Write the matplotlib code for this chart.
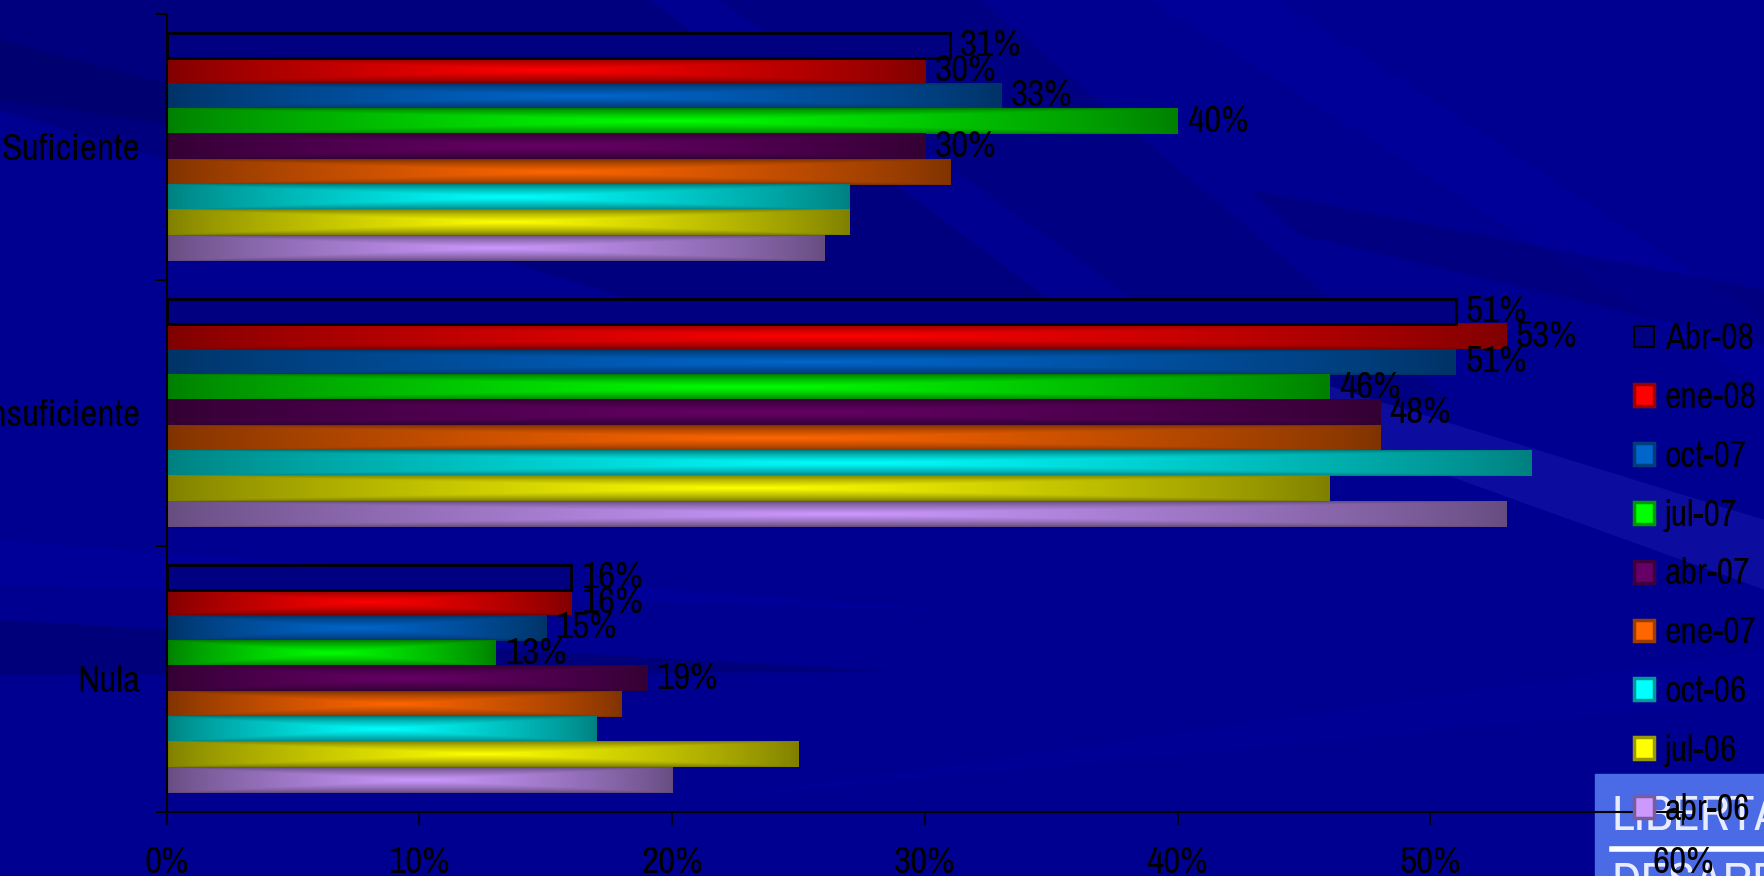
import matplotlib
matplotlib.use("Agg")
import matplotlib.pyplot as plt
import numpy as np
from matplotlib import font_manager
from matplotlib.patches import Patch, Polygon, Rectangle

# ---- data -------------------------------------------------------------
categories = ["Suficiente", "Insuficiente", "Nula"]
series = ["Abr-08", "ene-08", "oct-07", "jul-07", "abr-07",
          "ene-07", "oct-06", "jul-06", "abr-06"]
# values in %, one list per survey wave, ordered like categories
abr08 = [31, 51, 16]
ene08 = [30, 53, 16]
oct07 = [33, 51, 15]
jul07 = [40, 46, 13]
abr07 = [30, 48, 19]
ene07 = [31, 48, 18]
oct06 = [27, 54, 17]
jul06 = [27, 46, 25]
abr06 = [26, 53, 20]
values = [abr08, ene08, oct07, jul07, abr07, ene07, oct06, jul06, abr06]
labelled = 5  # only the first five waves carry data labels
xticks = [0, 10, 20, 30, 40, 50, 60]

bright = [None, (255, 0, 0), (0, 102, 204), (0, 255, 0), (102, 0, 102),
          (255, 102, 0), (0, 255, 255), (255, 255, 0), (204, 153, 255)]

# ---- fonts: a narrow grotesque if one is around -------------------------------
fam = ["Liberation Sans", "DejaVu Sans"]
for cand in ["Liberation Sans Narrow", "Archivo Narrow", "Roboto Condensed",
             "PT Sans Narrow", "Asap Condensed"]:
    try:
        font_manager.findfont(cand, fallback_to_default=False)
        fam = [cand, "DejaVu Sans"]
        break
    except Exception:
        pass
plt.rcParams["font.family"] = fam

W, H = 1765, 876
fig = plt.figure(figsize=(W / 100, H / 100), dpi=100, facecolor="#00008f")

# ---- background with soft diagonal streaks ----------------------------------
bg = fig.add_axes([0, 0, 1, 1], zorder=-10)
bg.set_xlim(0, W)
bg.set_ylim(H, 0)
bg.axis("off")
bg.add_patch(Rectangle((0, 0), W, H, color="#000090"))
streaks = [
    ([(0, 0), (650, 0), (1050, 300), (900, 380), (0, 110)], "#000060", 0.35),
    ([(0, 40), (520, 175), (0, 100)], "#000050", 0.3),
    ([(720, 0), (980, 0), (1450, 400), (1300, 420)], "#000068", 0.3),
    ([(1150, 0), (1280, 0), (1765, 320), (1765, 390)], "#0000b0", 0.25),
    ([(1050, 300), (1765, 520), (1765, 590), (1100, 350)], "#2828c0", 0.3),
    ([(1250, 190), (1765, 290), (1765, 345), (1300, 235)], "#000060", 0.3),
    ([(0, 540), (950, 610), (0, 585)], "#0000b0", 0.25),
    ([(0, 620), (900, 672), (0, 675)], "#000055", 0.35),
    ([(700, 800), (1765, 650), (1765, 700)], "#0000a8", 0.2),
]
for pts, col, a in streaks:
    bg.add_patch(Polygon(pts, closed=True, facecolor=col, edgecolor="none", alpha=a))

# logo box bottom right
bg.add_patch(Rectangle((1595, 774), W - 1595, H - 774, color="#4a6ae6"))
bg.plot([1612, W], [849, 849], color="white", lw=4)
bg.text(1612, 816, "LIBERTAD", color="#e8ecff", fontsize=36, va="center",
        ha="left")
bg.text(1612, 884, "DESARROLLO", color="#e8ecff", fontsize=36, va="center",
        ha="left")

# ---- chart ------------------------------------------------------------------
left, right, top, bottom = 166.6, 1683, 13.5, 811.6
ax = fig.add_axes([left / W, 1 - bottom / H, (right - left) / W, (bottom - top) / H])
ax.set_facecolor("none")

n = len(series)
h = 1 / (n + 1.5)          # gap width 150 %
ypos = np.arange(len(categories))


def shade(rgb, nx=240, ny=24):
    # "from centre" gradient: full colour in the middle, half at the edges
    u = np.linspace(-1, 1, nx)
    v = np.linspace(-1, 1, ny)
    U, V = np.meshgrid(u, v)
    t = 1 - np.maximum(np.abs(U), np.abs(V))
    k = 0.5 + 0.5 * t ** 0.8
    return k[..., None] * (np.array(rgb) / 255.0)


for i, (name, vals) in enumerate(zip(series, values)):
    y = ypos + (i - (n - 1) / 2) * h
    if i == 0:
        cont = ax.barh(y, vals, height=h, color="#000080", edgecolor="black",
                       linewidth=2, zorder=3)
    else:
        cont = ax.barh(y, vals, height=h, color="none", linewidth=0, zorder=3)
        img = shade(bright[i])
        for p in cont.patches:
            x0, y0 = p.get_x(), p.get_y()
            ax.imshow(img, extent=(x0, x0 + p.get_width(), y0 + p.get_height(), y0),
                      aspect="auto", interpolation="bilinear", zorder=2)
    if i < labelled:
        ax.bar_label(cont, labels=[f"{v}%" for v in vals], padding=7,
                     fontsize=27, color="black", zorder=5)

ax.set_xlim(0, 60)
ax.set_ylim(len(categories) - 0.5, -0.5)
ax.set_aspect("auto")

ax.set_xticks(xticks)
ax.set_xticklabels([f"{t}%" for t in xticks])
ax.set_yticks(ypos)
ax.set_yticklabels(categories)
ax.set_yticks(np.arange(len(categories) + 1) - 0.5, minor=True)
ax.tick_params(axis="y", which="major", length=0, pad=19, labelsize=27, colors="black")
ax.tick_params(axis="y", which="minor", length=8, width=1.5, color="black")
ax.tick_params(axis="x", which="major", length=9, width=1.2, pad=16, labelsize=27,
               colors="black")
for s in ("top", "right"):
    ax.spines[s].set_visible(False)
for s in ("left", "bottom"):
    ax.spines[s].set_color("black")
    ax.spines[s].set_linewidth(1.5)

# ---- legend --------------------------------------------------------------------
handles = [Patch(facecolor="#000080", edgecolor="black", linewidth=1.5)]
for rgb in bright[1:]:
    c = np.array(rgb) / 255.0
    handles.append(Patch(facecolor=c, edgecolor=c * 0.6, linewidth=2.5))
leg = fig.legend(handles, series, loc="center left",
                 bbox_to_anchor=(1634 / W, 1 - 574 / H), frameon=False,
                 fontsize=26, handlelength=0.55, handleheight=0.55,
                 handletextpad=0.3, labelspacing=0.715, borderpad=0,
                 borderaxespad=0)
leg.set_zorder(20)

fig.savefig("out.png", dpi=100, facecolor=fig.get_facecolor())
